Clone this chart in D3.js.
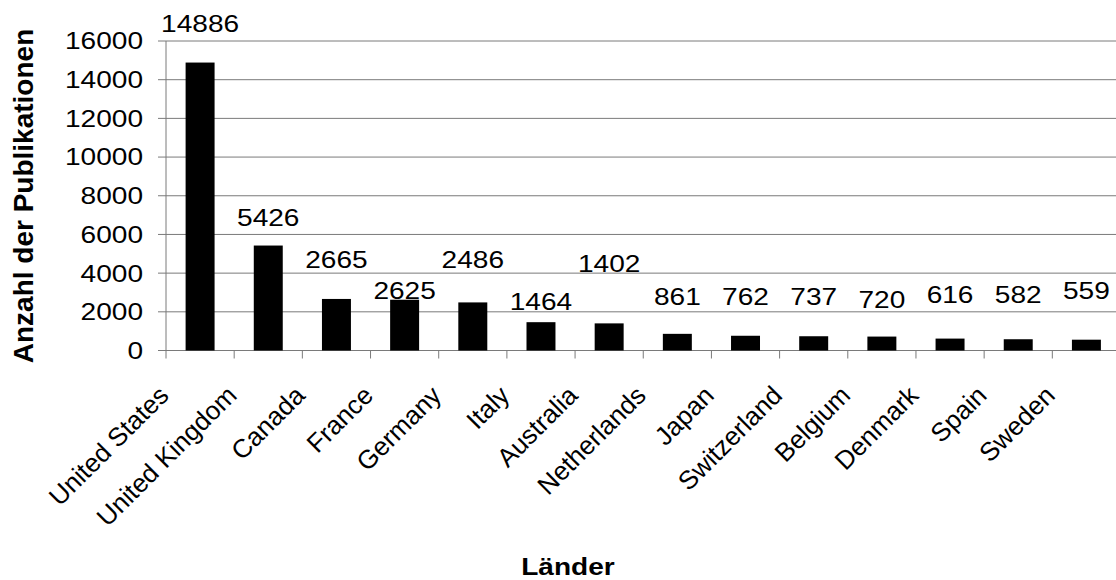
<!DOCTYPE html>
<html>
<head>
<meta charset="utf-8">
<script src="https://cdn.jsdelivr.net/npm/d3@7"></script>
<style>
    body { margin: 0; background: #fff; }
    svg { display: block; font-family: "Liberation Sans", Arial, sans-serif; }
</style>
</head>
<body>
<svg id="pub-svg" width="1116" height="580"></svg>
<script>
// data
const countries = ['United States', 'United Kingdom', 'Canada', 'France', 'Germany', 'Italy', 'Australia',
    'Netherlands', 'Japan', 'Switzerland', 'Belgium', 'Denmark', 'Spain', 'Sweden'];
const publications = [14886, 5426, 2665, 2625, 2486, 1464, 1402, 861, 762, 737, 720, 616, 582, 559];
// where each value label sits (axis units, as placed in the original)
const labelAt = [16465, 6436, 4249, 2647, 4265, 2094, 4074, 2352, 2352, 2352, 2182, 2440, 2440, 2647];
const yTicks = [0, 2000, 4000, 6000, 8000, 10000, 12000, 14000, 16000];

const WIDTH = 1116;
const HEIGHT = 580;
const PLOT = {left: 166, right: 1120.5, top: 41, bottom: 350.5};
const SX = 1.17; // the original is stretched sideways a bit
const GRID = '#7a7a7a';

function plotPublications() {
    const svg = d3.select('#pub-svg');

    // x scale //
    const xScale = d3.scaleBand()
        .domain(countries)
        .range([PLOT.left, PLOT.right])
        .paddingInner(0.575)
        .paddingOuter(0.2875);
    const step = xScale.step();

    // y scale //
    const yScale = d3.scaleLinear()
        .domain([0, 16000])
        .range([PLOT.bottom, PLOT.top]);

    // gridlines
    svg.append('g')
        .selectAll('line')
        .data(yTicks.filter((d) => d > 0))
        .enter()
        .append('line')
        .attr('x1', PLOT.left)
        .attr('x2', WIDTH)
        .attr('y1', (d) => yScale(d))
        .attr('y2', (d) => yScale(d))
        .attr('stroke', GRID)
        .attr('stroke-width', 1);

    // y-axis //
    const yAxis = svg.append('g');
    yAxis.append('line')
        .attr('x1', PLOT.left).attr('x2', PLOT.left)
        .attr('y1', yScale(16000)).attr('y2', yScale(0))
        .attr('stroke', GRID);

    yAxis.selectAll('.ytick')
        .data(yTicks)
        .enter()
        .append('line')
        .attr('class', 'ytick')
        .attr('x1', PLOT.left - 8).attr('x2', PLOT.left)
        .attr('y1', (d) => yScale(d)).attr('y2', (d) => yScale(d))
        .attr('stroke', GRID);

    yAxis.selectAll('text')
        .data(yTicks)
        .enter()
        .append('text')
        .attr('transform', (d) => `translate(143, ${yScale(d)}) scale(${SX}, 1)`)
        .attr('dy', '0.35em')
        .style('text-anchor', 'end')
        .style('font-size', '24px')
        .text((d) => d);

    svg.append('text')
        .attr('transform', `translate(33, 196) rotate(-90)`)
        .style('text-anchor', 'middle')
        .style('font-size', '28px')
        .style('font-weight', 'bold')
        .text('Anzahl der Publikationen');

    // x-axis //
    const xAxis = svg.append('g');
    xAxis.append('line')
        .attr('x1', PLOT.left - 8).attr('x2', WIDTH)
        .attr('y1', yScale(0)).attr('y2', yScale(0))
        .attr('stroke', GRID);

    // tick marks sit between categories
    xAxis.selectAll('.xtick')
        .data(d3.range(countries.length + 1))
        .enter()
        .append('line')
        .attr('class', 'xtick')
        .attr('x1', (i) => PLOT.left + i * step)
        .attr('x2', (i) => PLOT.left + i * step)
        .attr('y1', yScale(0)).attr('y2', yScale(0) + 8)
        .attr('stroke', GRID);

    xAxis.selectAll('text')
        .data(countries)
        .enter()
        .append('text')
        .attr('transform', (d) => `translate(${xScale(d) + xScale.bandwidth() / 2 - 30}, 397) rotate(-45)`)
        .style('text-anchor', 'end')
        .style('font-size', '26px')
        .text((d) => d);

    svg.append('text')
        .attr('transform', `translate(568, 575) scale(${SX}, 1)`)
        .style('text-anchor', 'middle')
        .style('font-size', '24px')
        .style('font-weight', 'bold')
        .text('Länder');

    // bars //
    const chart = svg.append('g');
    chart.selectAll('rect')
        .data(publications)
        .enter()
        .append('rect')
        .attr('x', (d, i) => xScale(countries[i]))
        .attr('y', (d) => yScale(d))
        .attr('width', xScale.bandwidth())
        .attr('height', (d) => yScale(0) - yScale(d))
        .attr('fill', '#000');

    // value labels
    chart.selectAll('text')
        .data(publications)
        .enter()
        .append('text')
        .attr('transform', (d, i) => `translate(${xScale(countries[i]) + xScale.bandwidth() / 2}, ${yScale(labelAt[i])}) scale(${SX}, 1)`)
        .style('text-anchor', 'middle')
        .style('font-size', '24px')
        .text((d) => d);
}

plotPublications();
</script>
</body>
</html>
